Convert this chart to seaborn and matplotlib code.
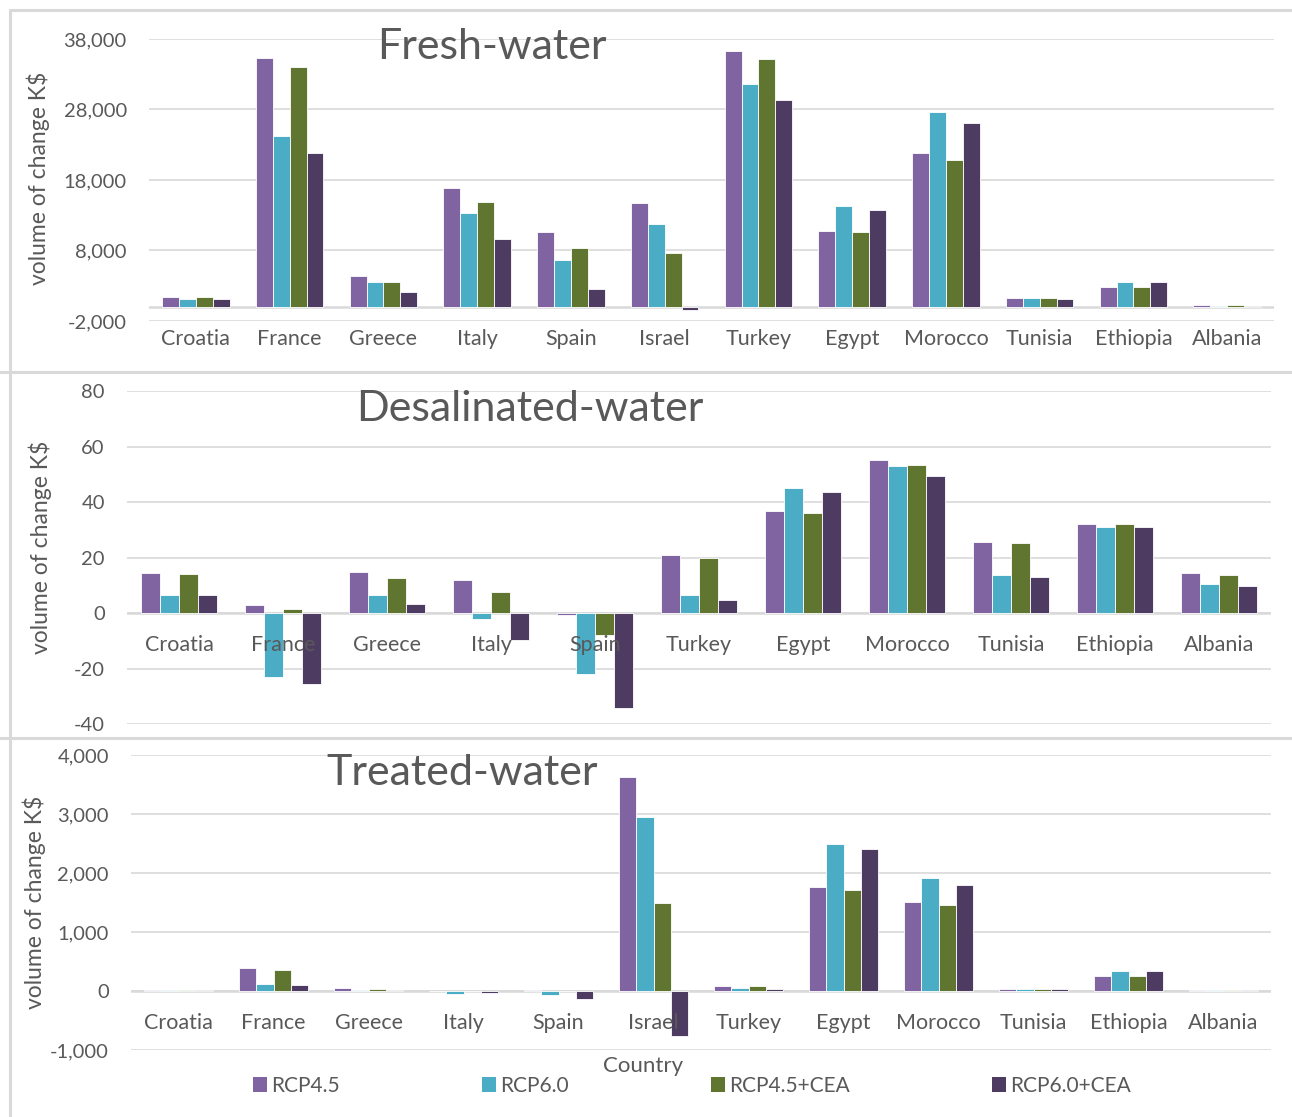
import matplotlib
matplotlib.use("Agg")
import matplotlib.pyplot as plt
from matplotlib.patches import Patch
from matplotlib.lines import Line2D
import pandas as pd
import seaborn as sns

# ---- data (K$) ----
countries = ["Croatia", "France", "Greece", "Italy", "Spain", "Israel",
             "Turkey", "Egypt", "Morocco", "Tunisia", "Ethiopia", "Albania"]
countries_desal = ["Croatia", "France", "Greece", "Italy", "Spain",
                   "Turkey", "Egypt", "Morocco", "Tunisia", "Ethiopia", "Albania"]
scenarios = ["RCP4.5", "RCP6.0", "RCP4.5+CEA", "RCP6.0+CEA"]

fresh_rcp45 = [1400, 35300, 4400, 16900, 10600, 14700, 36300, 10800, 21800, 1300, 2800, 200]
fresh_rcp60 = [1100, 24200, 3600, 13300, 6600, 11700, 31600, 14300, 27600, 1300, 3500, 100]
fresh_rcp45_cea = [1400, 34000, 3600, 14900, 8300, 7600, 35100, 10600, 20900, 1200, 2800, 200]
fresh_rcp60_cea = [1100, 21800, 2100, 9700, 2600, -500, 29400, 13800, 26100, 1100, 3600, 100]

desal_rcp45 = [14.3, 2.8, 14.8, 11.8, -0.8, 21.0, 36.9, 55.3, 25.6, 32.1, 14.3]
desal_rcp60 = [6.6, -23.2, 6.6, -2.0, -22.1, 6.4, 45.2, 53.0, 13.8, 31.1, 10.6]
desal_rcp45_cea = [14.1, 1.4, 12.6, 7.7, -7.9, 19.9, 36.2, 53.5, 25.1, 32.1, 13.8]
desal_rcp60_cea = [6.4, -25.7, 3.2, -9.6, -34.4, 4.8, 43.7, 49.5, 12.9, 31.1, 9.9]

treated_rcp45 = [20, 385, 45, -5, 15, 3630, 85, 1770, 1505, 40, 250, 10]
treated_rcp60 = [15, 125, 22, -45, -70, 2950, 50, 2495, 1915, 40, 335, 10]
treated_rcp45_cea = [15, 360, 34, -5, -5, 1495, 85, 1720, 1455, 28, 250, 10]
treated_rcp60_cea = [15, 95, 17, -40, -130, -770, 40, 2415, 1800, 40, 335, 10]

palette = ["#8064A2", "#4BACC6", "#60752F", "#4D3B62"]
text_color = "#595959"
grid_color = "#D9D9D9"


def long_frame(cats, series):
    rows = []
    for name, vals in zip(scenarios, series):
        for c, v in zip(cats, vals):
            rows.append({"Country": c, "Scenario": name, "value": v})
    return pd.DataFrame(rows)


sns.set_theme(style="white")
plt.rcParams["font.family"] = ["Lato", "DejaVu Sans"]

W, H = 1292, 1117
fig = plt.figure(figsize=(W / 100, H / 100), dpi=100)


def px_axes(left, right, top, bottom):
    return fig.add_axes([left / W, 1 - bottom / H, (right - left) / W, (bottom - top) / H])


panels = [
    dict(cats=countries, series=[fresh_rcp45, fresh_rcp60, fresh_rcp45_cea, fresh_rcp60_cea],
         box=(149, 1274, 39, 321), ylim=(-2000, 38000), step=10000, width=0.72,
         title="Fresh-water", tpos=(492, 47), ylab_pos=(38, 178)),
    dict(cats=countries_desal, series=[desal_rcp45, desal_rcp60, desal_rcp45_cea, desal_rcp60_cea],
         box=(127, 1271, 391, 724), ylim=(-40, 80), step=20, width=0.73,
         title="Desalinated-water", tpos=(530, 409), ylab_pos=(40, 547)),
    dict(cats=countries, series=[treated_rcp45, treated_rcp60, treated_rcp45_cea, treated_rcp60_cea],
         box=(131, 1271, 755, 1050), ylim=(-1000, 4000), step=1000, width=0.72,
         title="Treated-water", tpos=(462, 773), ylab_pos=(34, 902)),
]

for p in panels:
    ax = px_axes(*p["box"])
    df = long_frame(p["cats"], p["series"])
    sns.barplot(data=df, x="Country", y="value", hue="Scenario", palette=palette,
                saturation=1, width=p["width"], edgecolor="white", linewidth=0.6,
                legend=False, ax=ax, zorder=2)
    lo, hi = p["ylim"]
    ax.set_ylim(lo, hi)
    ticks = list(range(lo, hi + 1, p["step"]))
    ax.set_yticks(ticks)
    ax.set_yticklabels([f"{t:,}" for t in ticks], color=text_color, fontsize=14.5)
    ax.tick_params(axis="y", length=0, pad=16)
    for t in ticks:
        ax.axhline(t, color=grid_color, lw=1.2, zorder=0)
    ax.axhline(0, color=grid_color, lw=1.8, zorder=1)
    ax.set_xticks([])
    ax.set_xlabel("")
    ax.set_ylabel("")
    for s in ax.spines.values():
        s.set_visible(False)
    ax.patch.set_alpha(0)
    for i, c in enumerate(p["cats"]):
        ax.annotate(c, xy=(i, 0), xytext=(0, -23), textcoords="offset points",
                    ha="center", va="center", fontsize=15.5, color=text_color, zorder=5)
    fig.text(p["tpos"][0] / W, 1 - p["tpos"][1] / H, p["title"], fontsize=31,
             color=text_color, ha="center", va="center")
    fig.text(p["ylab_pos"][0] / W, 1 - p["ylab_pos"][1] / H, "volume of change K$",
             fontsize=16.5, color=text_color, rotation=90, ha="center", va="center")

# panel frames
frame_kw = dict(color=grid_color, lw=2.2, transform=fig.transFigure)
fig.add_artist(Line2D([9.5 / W, 9.5 / W], [0, 1 - 10 / H], **frame_kw))
fig.add_artist(Line2D([9.5 / W, 1], [1 - 10 / H, 1 - 10 / H], **frame_kw))
fig.add_artist(Line2D([0, 1], [1 - 372 / H, 1 - 372 / H], **frame_kw))
fig.add_artist(Line2D([0, 1], [1 - 738 / H, 1 - 738 / H], **frame_kw))

fig.text(643 / W, 1 - 1066 / H, "Country", fontsize=16, color=text_color,
         ha="center", va="center")

handles = [Patch(facecolor=c, edgecolor="none", label=s) for c, s in zip(palette, scenarios)]
leg = fig.legend(handles=handles, ncol=4, loc="center", bbox_to_anchor=(692 / W, 1 - 1086 / H),
                 frameon=False, fontsize=15, handlelength=0.7, handleheight=0.7,
                 handletextpad=0.2, columnspacing=6.8, borderaxespad=0)
for t in leg.get_texts():
    t.set_color(text_color)

fig.savefig("out.png", dpi=100, facecolor="white")
